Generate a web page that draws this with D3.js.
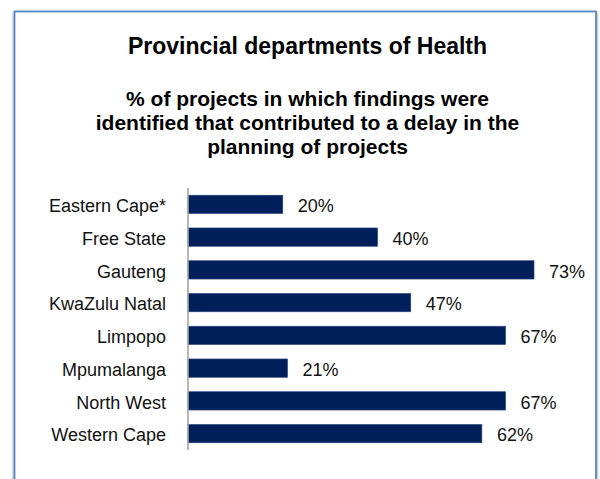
<!DOCTYPE html>
<html>
<head>
<meta charset="utf-8">
<script src="https://cdn.jsdelivr.net/npm/d3@7"></script>
<style>
  html, body { margin: 0; padding: 0; background: #ffffff; }
  svg { display: block; font-family: Arial, "Liberation Sans", sans-serif; }
</style>
</head>
<body>
<svg id="chart" width="600" height="479"></svg>
<script>
// Provinces shown top to bottom
const provinces = ["Eastern Cape*", "Free State", "Gauteng", "KwaZulu Natal",
                   "Limpopo", "Mpumalanga", "North West", "Western Cape"];
// Share of projects with findings that delayed planning
const shares = [0.20, 0.40, 0.73, 0.47, 0.67, 0.21, 0.67, 0.62];
const titleText = "Provincial departments of Health";
const subtitleLines = ["% of projects in which findings were",
                       "identified that contributed to a delay in the",
                       "planning of projects"];

const svg = d3.select("#chart");

// Framed panel with a soft shadow
const defs = svg.append("defs");
const shadow = defs.append("filter").attr("id", "panelShadow")
  .attr("x", "-5%").attr("y", "-5%").attr("width", "110%").attr("height", "110%");
shadow.append("feGaussianBlur").attr("in", "SourceAlpha").attr("stdDeviation", 1.8).attr("result", "blur");
shadow.append("feOffset").attr("in", "blur").attr("dx", 0).attr("dy", 2).attr("result", "off");
shadow.append("feComponentTransfer").attr("in", "off").attr("result", "soft")
  .append("feFuncA").attr("type", "linear").attr("slope", 0.5);
const merge = shadow.append("feMerge");
merge.append("feMergeNode").attr("in", "soft");
merge.append("feMergeNode").attr("in", "SourceGraphic");

svg.append("rect")
  .attr("x", 14.5).attr("y", 11.5)
  .attr("width", 581.5).attr("height", 480)
  .attr("fill", "#ffffff")
  .attr("stroke", "#5585c6")
  .attr("stroke-width", 1.8)
  .attr("filter", "url(#panelShadow)");

// Titles
const cx = 307.5;
svg.append("text")
  .attr("x", cx).attr("y", 54)
  .attr("text-anchor", "middle")
  .attr("font-size", 23).attr("font-weight", "bold").attr("fill", "#000")
  .text(titleText);

svg.append("g").selectAll("text")
  .data(subtitleLines)
  .join("text")
  .attr("x", cx)
  .attr("y", (d, i) => 106 + i * 24)
  .attr("text-anchor", "middle")
  .attr("font-size", 21).attr("font-weight", "bold").attr("fill", "#000")
  .text(d => d);

// Scales
const x0 = 188;
const x = d3.scaleLinear().domain([0, 1]).range([x0, x0 + 474]);
const y = d3.scaleBand().domain(provinces).range([188, 450])
  .paddingInner(0.44).paddingOuter(0.22);

// Bars
svg.append("g").selectAll("rect")
  .data(provinces)
  .join("rect")
  .attr("x", x(0))
  .attr("y", d => y(d))
  .attr("width", (d, i) => x(shares[i]) - x(0))
  .attr("height", y.bandwidth())
  .attr("fill", "#001f5b")
  .attr("stroke", "#2f4a80")
  .attr("stroke-width", 0.6);

// Category axis
const axis = d3.axisLeft(y).tickSize(0).tickPadding(22);
const gAxis = svg.append("g")
  .attr("transform", `translate(${x0},0)`)
  .call(axis);
gAxis.select(".domain")
  .attr("stroke", "#a6a6a6").attr("stroke-width", 1.6)
  .attr("d", `M0,188V450`);
gAxis.selectAll(".tick text")
  .attr("font-size", 18)
  .attr("font-family", "Arial, 'Liberation Sans', sans-serif")
  .attr("fill", "#111")
  .attr("dy", "0.43em");

// Value labels
svg.append("g").selectAll("text")
  .data(provinces)
  .join("text")
  .attr("x", (d, i) => x(shares[i]) + 15)
  .attr("y", d => y(d) + y.bandwidth() / 2)
  .attr("dy", "0.43em")
  .attr("font-size", 18).attr("fill", "#111")
  .text((d, i) => d3.format(".0%")(shares[i]));
</script>
</body>
</html>
